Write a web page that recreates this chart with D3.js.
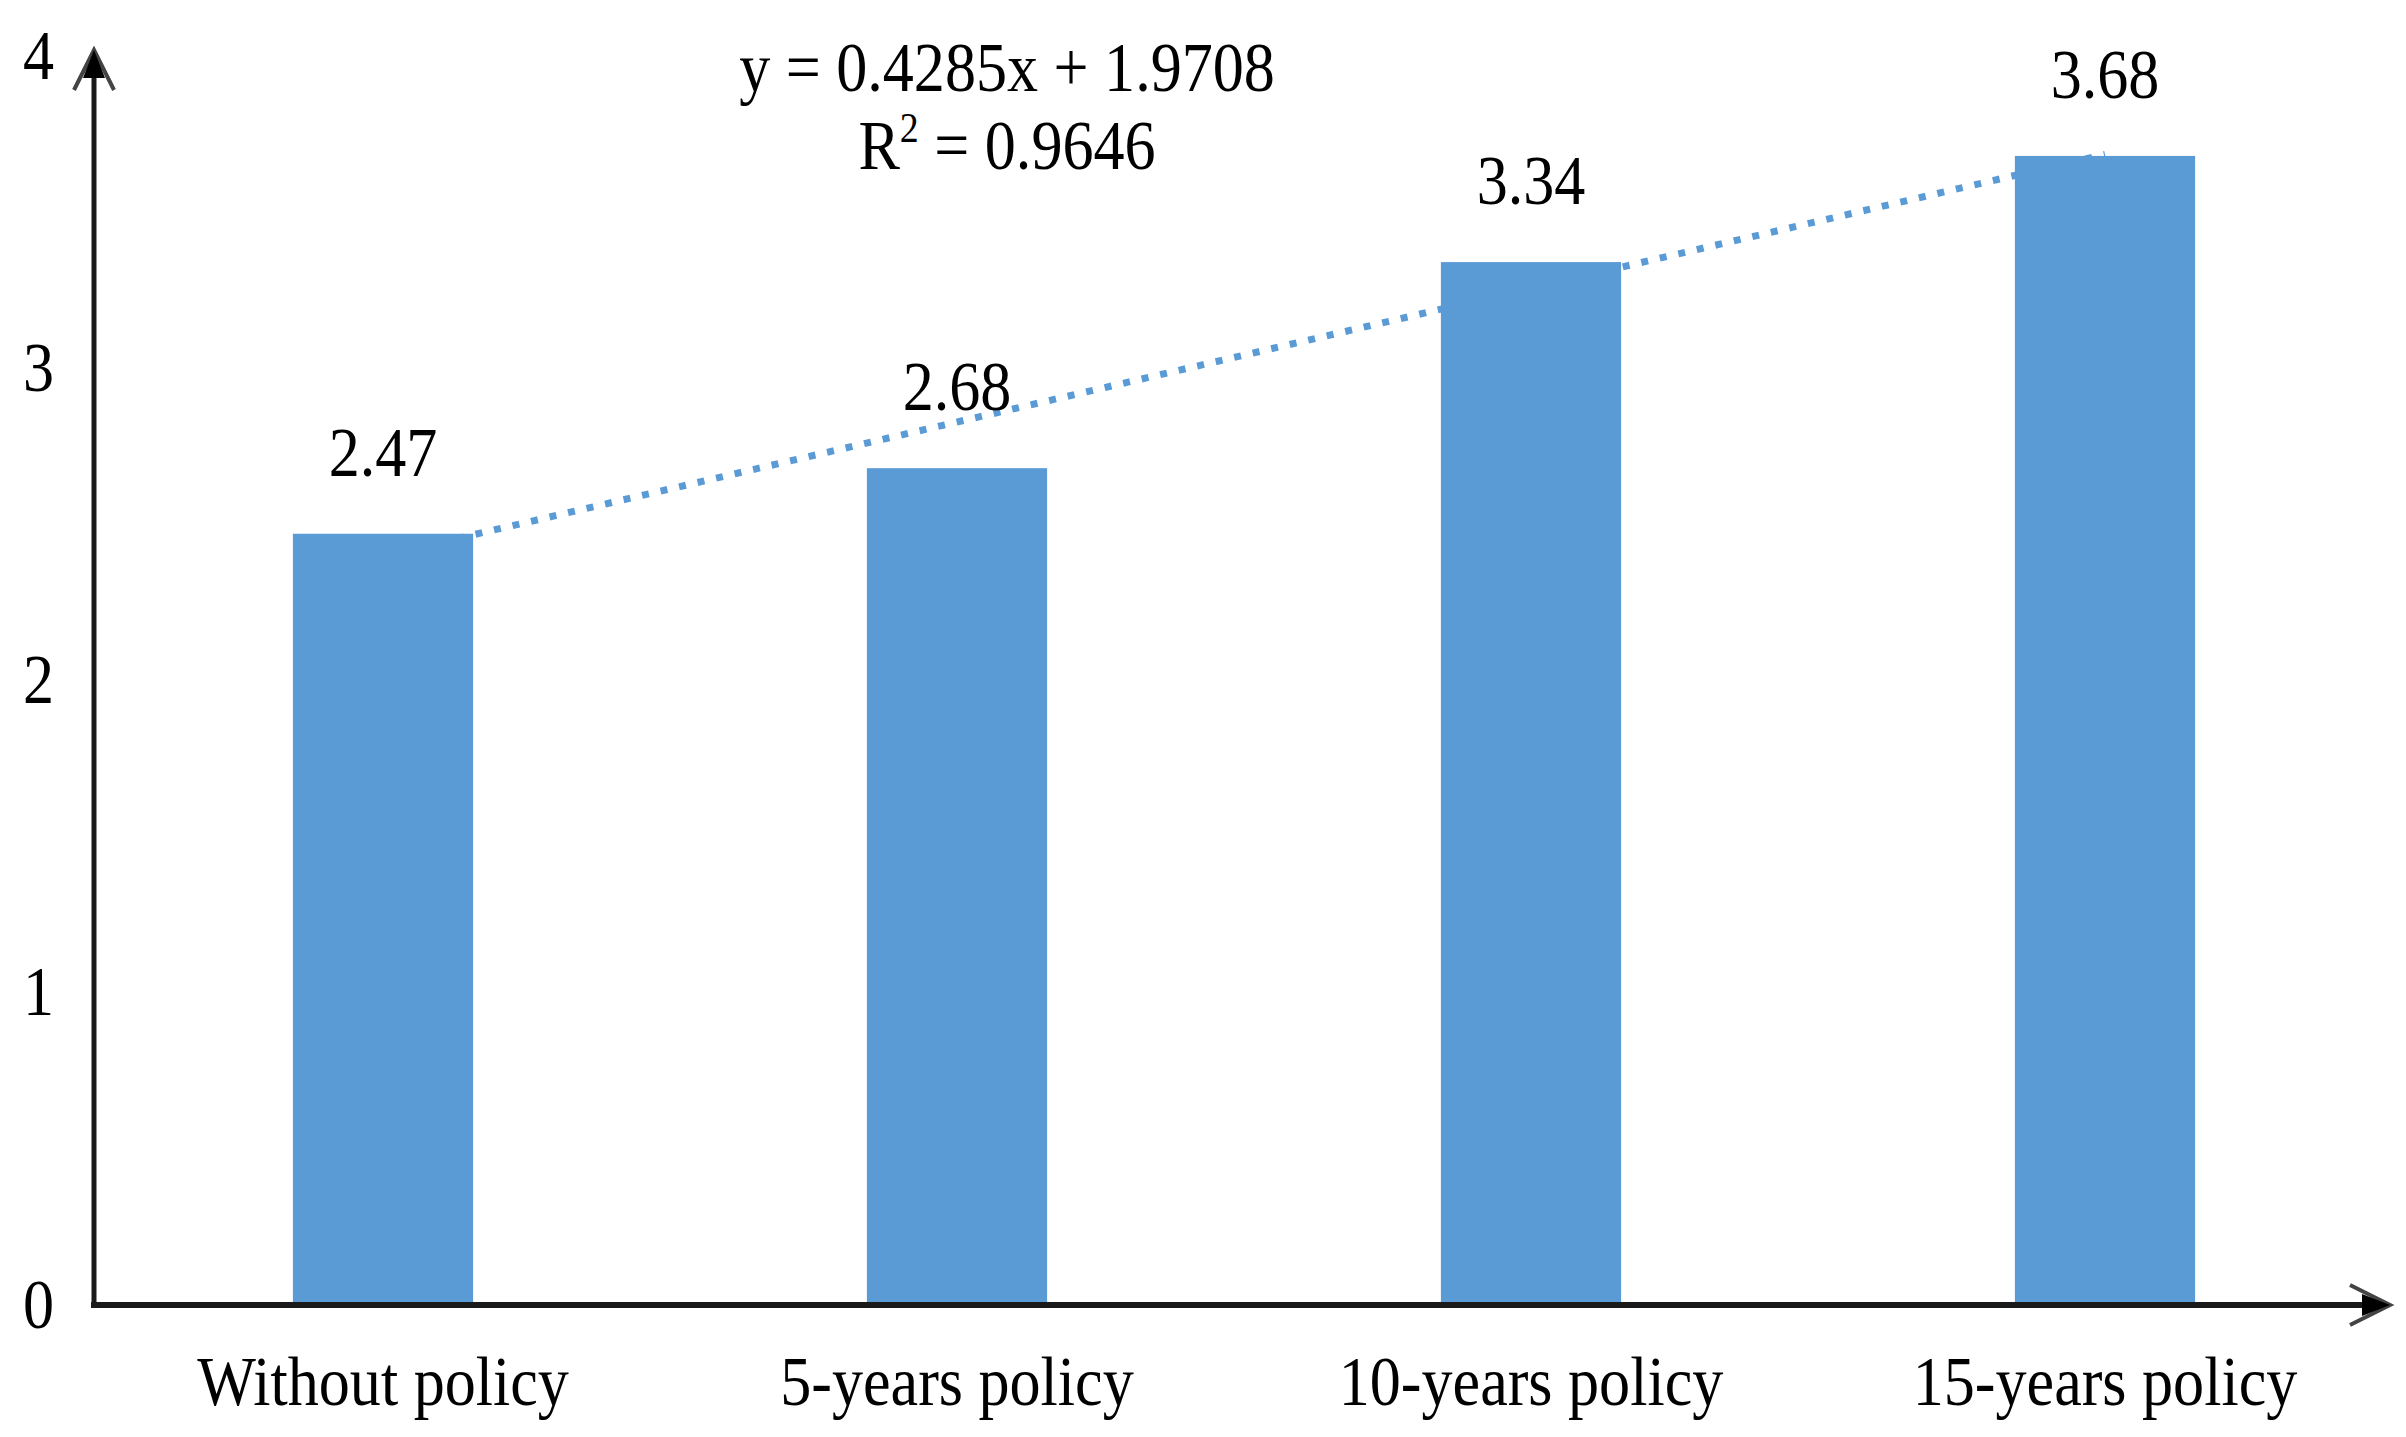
<!DOCTYPE html>
<html>
<head>
<meta charset="utf-8">
<script src="https://cdn.jsdelivr.net/npm/d3@7"></script>
<style>
  body { margin: 0; background: #fff; }
  text { font-family: 'Liberation Serif', 'Times New Roman', serif; fill: #000; }
</style>
</head>
<body>
<div id="chart"></div>
<script>
// Chart data
const categories = ['Without policy', '5-years policy', '10-years policy', '15-years policy'];
const values = [2.47, 2.68, 3.34, 3.68];
const yTicks = [0, 1, 2, 3, 4];
// Linear trendline shown on the chart
const trendSlope = 0.4285;
const trendIntercept = 1.9708;
const trendR2 = 0.9646;

const W = 2406, H = 1437;
const fontSize = 69;
const squeeze = 0.9; // text in the picture is a bit narrow

const svg = d3.select('#chart')
    .append('svg')
    .attr('width', W)
    .attr('height', H);

// Scales
const x = d3.scaleBand()
    .domain(categories)
    .range([96, 2392])
    .paddingInner(0.686)
    .paddingOuter(0.343);

const y = d3.scaleLinear()
    .domain([0, 4])
    .range([1305, 56]);

// Trendline (drawn behind the bars)
const trendPts = [0, categories.length - 1].map(i => ({
    cat: categories[i],
    v: trendSlope * (i + 1) + trendIntercept
}));

svg.append('path')
    .datum(trendPts)
    .attr('fill', 'none')
    .attr('stroke', '#5b9bd5')
    .attr('stroke-width', 7)
    .attr('stroke-dasharray', '7 12')
    .attr('d', d3.line()
        .x(d => x(d.cat) + x.bandwidth() / 2)
        .y(d => y(d.v)));

// Bars
svg.selectAll('.bar')
    .data(values)
    .enter()
    .append('rect')
    .attr('class', 'bar')
    .attr('x', (d, i) => x(categories[i]))
    .attr('y', d => y(d))
    .attr('width', x.bandwidth())
    .attr('height', d => y(0) - y(d))
    .attr('fill', '#5b9bd5');

// Value labels
svg.selectAll('.label')
    .data(values)
    .enter()
    .append('text')
    .attr('class', 'label')
    .attr('text-anchor', 'middle')
    .attr('font-size', fontSize)
    .attr('transform', (d, i) =>
        `translate(${x(categories[i]) + x.bandwidth() / 2},${y(d) - 58}) scale(${squeeze},1)`)
    .text(d => d.toFixed(2));

// Y axis labels
const yAxis = svg.append('g')
    .attr('transform', 'translate(54,0)')
    .call(d3.axisLeft(y).tickValues(yTicks).tickSize(0).tickPadding(0).tickFormat(d3.format('d')));
yAxis.select('.domain').remove();
yAxis.selectAll('text')
    .attr('x', 0)
    .attr('font-size', fontSize)
    .attr('font-family', null)
    .attr('transform', `scale(${squeeze},1)`);

// X axis labels
const xAxis = svg.append('g')
    .attr('transform', `translate(0,${y(0)})`)
    .call(d3.axisBottom(x).tickSize(0));
xAxis.select('.domain').remove();
xAxis.selectAll('text')
    .attr('y', 100)
    .attr('dy', 0)
    .attr('font-size', fontSize)
    .attr('font-family', null)
    .attr('transform', `scale(${squeeze},1)`);

// Axis lines with arrow heads
const axisColor = '#1a1a1a';
const x0 = x.range()[0] - 2;
const xEnd = 2390;
const yTop = 50;

svg.append('line')
    .attr('x1', x0).attr('x2', x0)
    .attr('y1', y(0) + 3).attr('y2', yTop + 4)
    .attr('stroke', axisColor).attr('stroke-width', 5);

svg.append('line')
    .attr('x1', x0 - 3).attr('x2', xEnd - 4)
    .attr('y1', y(0)).attr('y2', y(0))
    .attr('stroke', axisColor).attr('stroke-width', 6);

function arrowHead(tx, ty, angle) {
    const g = svg.append('g')
        .attr('transform', `translate(${tx},${ty}) rotate(${angle})`);
    g.append('path')
        .attr('d', 'M-20,40 L0,0 L20,40')
        .attr('fill', 'none')
        .attr('stroke', '#444')
        .attr('stroke-width', 4);
    g.append('path')
        .attr('d', 'M-11,28 L0,0 L11,28 Z')
        .attr('fill', '#000');
}
arrowHead(x0, yTop, 0);
arrowHead(xEnd, y(0), 90);

// Trendline equation
const eq = svg.append('g').attr('font-size', fontSize);
eq.append('text')
    .attr('text-anchor', 'middle')
    .attr('transform', `translate(1007,91) scale(${squeeze},1)`)
    .text(`y = ${trendSlope}x + ${trendIntercept}`);

const r2 = eq.append('text')
    .attr('text-anchor', 'middle')
    .attr('transform', `translate(1007,169) scale(${squeeze},1)`);
r2.append('tspan').text('R');
r2.append('tspan').attr('font-size', 42).attr('dy', -27).text('2');
r2.append('tspan').attr('dy', 27).text(` = ${trendR2}`);
</script>
</body>
</html>
